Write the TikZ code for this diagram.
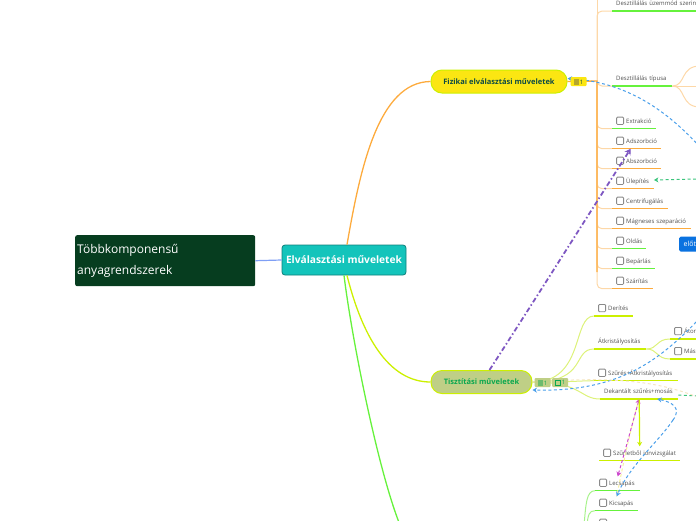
\documentclass[tikz,border=0pt]{standalone}
\usepackage{xcolor}
\usepackage{fontspec}
\setmainfont{Open Sans}
\usetikzlibrary{arrows.meta,positioning,calc}
\definecolor{rootfill}{HTML}{13C4BB}
\definecolor{rootline}{HTML}{0E7F7A}
\definecolor{darkfill}{HTML}{063D1F}
\definecolor{linkblue}{HTML}{7F9FF5}
\definecolor{fizfill}{HTML}{FBE612}
\definecolor{fizicon}{HTML}{B5A62A}
\definecolor{limeline}{HTML}{CCF000}
\definecolor{limesoft}{HTML}{DDF27A}
\definecolor{tiszfill}{HTML}{BFCF86}
\definecolor{tisztext}{HTML}{0AA84F}
\definecolor{tisicon}{HTML}{6DBB6D}
\definecolor{fiztext}{HTML}{0D4A45}
\definecolor{orangeline}{HTML}{FDAB3D}
\definecolor{orangesoft}{HTML}{FDD8A8}
\definecolor{greenline}{HTML}{66F23C}
\definecolor{greensoft}{HTML}{A8F28C}
\definecolor{dashblue}{HTML}{4A9FEA}
\definecolor{dashgreen}{HTML}{3CC47C}
\definecolor{dashpurple}{HTML}{7E57C2}
\definecolor{dashmagenta}{HTML}{CC44CC}
\definecolor{dashbeige}{HTML}{F5E6C4}
\definecolor{dashyellow}{HTML}{F7F0A0}
\definecolor{btnblue}{HTML}{0A72E0}
\definecolor{boxgray}{HTML}{8A8A8A}
\definecolor{leaftext}{HTML}{505050}
\newcommand{\listicon}[1]{\textcolor{#1}{\rule{5pt}{6pt}}}
\newcommand{\noteicon}{{\fboxsep=0pt\fboxrule=.6pt\fbox{\rule{5pt}{0pt}\rule{0pt}{4pt}}}}
\begin{document}
\begin{tikzpicture}[
	x=1pt, y=-1pt,
	leaf/.style={anchor=south west, inner xsep=0pt, inner ysep=4pt, text width=#1pt, align=left, font=\fontsize{6}{7}\selectfont, text=leaftext, text height=4.5pt, text depth=1.5pt, execute at begin node={\hspace*{4pt}}},
	chkleaf/.style={leaf=#1, execute at begin node={\hspace*{10pt}}, path picture={\draw[boxgray, line width=.8pt, rounded corners=1pt] ([shift={(4.4pt,4pt)}]path picture bounding box.south west) rectangle ++(7pt,7.4pt);}},
	topic/.style={rounded corners=11pt, line width=1pt, minimum height=23pt, font=\fontsize{7.5}{9}\bfseries\selectfont},
	badge/.style={rounded corners=1pt, inner sep=0pt, minimum height=9pt, minimum width=16pt, font=\fontsize{6}{7}\selectfont},
	ulgreen/.style={greenline, line width=1.5pt},
	ulorange/.style={orangeline, line width=1.5pt},
	ullime/.style={limeline, line width=1.5pt},
	softorange/.style={orangesoft, line width=1pt},
	softlime/.style={limesoft, line width=1pt},
	softgreen/.style={greensoft, line width=1pt},
	dashlink/.style={dash pattern=on 3pt off 2.5pt, line width=1pt},
	arr/.style={-{Stealth[length=4.5pt, width=5pt]}}
	]
	\path[use as bounding box, clip] (0,0) rectangle (696,520);
	\node[fill=darkfill, rounded corners=2pt, anchor=north west, minimum width=180pt, minimum height=51pt, text width=176pt, inner xsep=2pt, align=left, text=white, font=\fontsize{12}{21.5}\selectfont] (multi) at (75,235) {Többkomponensű\\anyagrendszerek};
	\node[fill=rootfill, draw=rootline, line width=.8pt, rounded corners=3pt, minimum width=124pt, minimum height=30pt, inner sep=0pt, text=white, font=\fontsize{10.2}{12}\bfseries\selectfont] (root) at (344,260) {Elválasztási műveletek};
	\node[topic, fill=fizfill, draw=limeline, minimum width=136pt, text=fiztext] (fiz) at (499,81.5) {Fizikai elválasztási műveletek};
	\node[topic, fill=tiszfill, draw=limeline, minimum width=101pt, text=tisztext] (tisz) at (481.5,382) {Tisztítási műveletek};
	\node[leaf=120] (uzem) at (612,11) {Desztillálás üzemmód szerint};
	\node[leaf=60] (tipus) at (612,86) {Desztillálás típusa};
	\node[chkleaf=44] (extr) at (612,128.7) {Extrakció};
	\node[chkleaf=49] (adsz) at (612,148.7) {Adszorbció};
	\node[chkleaf=49] (absz) at (612,168.7) {Abszorbció};
	\node[chkleaf=41.5] (ulep) at (612,188.7) {Ülepítés};
	\node[chkleaf=56] (centr) at (612,208.7) {Centrifugálás};
	\node[chkleaf=79] (magn) at (612,228.7) {Mágneses szeparáció};
	\node[chkleaf=34] (old) at (612,248.7) {Oldás};
	\node[chkleaf=43] (bep) at (612,268.7) {Bepárlás};
	\node[chkleaf=41] (szar) at (612,288.7) {Szárítás};
	\node[fill=btnblue, rounded corners=1.5pt, anchor=north west, minimum height=15pt, text width=26pt, inner xsep=4.5pt, inner ysep=0pt, align=left, text=white, font=\fontsize{7}{8}\selectfont] (elot) at (679,236.5) {előt};
	\node[chkleaf=39] (derit) at (594,316) {Derítés};
	\node[leaf=52] (atkr) at (594,349) {Átkristályosítás};
	\node[chkleaf=40] (ator) at (670,339) {Átor};
	\node[chkleaf=40] (masik) at (670,359) {Más};
	\node[chkleaf=84] (szuat) at (594,380.7) {Szűrés+Átkristályosítás};
	\node[leaf=78] (dekant) at (600,399) {Dekantált szűrés+mosás};
	\node[chkleaf=81] (szurl) at (599,460.7) {Szűrletből ionvizsgálat};
	\node[chkleaf=45] (lecs) at (595,490.7) {Lecsapás};
	\node[chkleaf=43] (kics) at (595,510.7) {Kicsapás};
	\node[chkleaf=43] (tovabb) at (595,530.7) {};
	\coordinate (fork) at (597,81);
	\coordinate (forktop) at (597,-5);
	\coordinate (forkend) at (597,272);
	\coordinate (tip1) at (700,66);
	\coordinate (tip2) at (700,86);
	\coordinate (tip3) at (700,107);
	\coordinate (greenin) at (400,525);
	\coordinate (greenin2) at (584,525);
	\coordinate (greenin3) at (587,525);
	\coordinate (blue1) at (700,147);
	\coordinate (blue2) at (700,318);
	\coordinate (green1) at (700,396);
	\coordinate (beige1) at (700,398);
	\draw[linkblue, line width=1.2pt] (multi.east) -- (root.west);
	\draw[orangeline, line width=1.3pt] ([xshift=3pt]root.north) .. controls (360,170) and (378,82) .. (fiz.west);
	\draw[limeline, line width=1.3pt] ([xshift=3pt]root.south) .. controls (362,335) and (388,382) .. (tisz.west);
	\draw[greenline, line width=1.3pt] (root.south) .. controls (352,340) and (378,470) .. (greenin);
	\draw[softorange] (forktop) -- (fork);
	\draw[softorange, rounded corners=5pt] (fork) |- (uzem.south west);
	\draw[softorange, rounded corners=5pt] (fork) |- (tipus.south west);
	\draw[softorange, rounded corners=5pt] (fork) |- (extr.south west);
	\draw[softorange, rounded corners=5pt] (fork) |- (adsz.south west);
	\draw[softorange, rounded corners=5pt] (fork) |- (absz.south west);
	\draw[softorange, rounded corners=5pt] (fork) |- (ulep.south west);
	\draw[softorange, rounded corners=5pt] (fork) |- (centr.south west);
	\draw[softorange, rounded corners=5pt] (fork) |- (magn.south west);
	\draw[softorange, rounded corners=5pt] (fork) |- (old.south west);
	\draw[softorange, rounded corners=5pt] (fork) |- (bep.south west);
	\draw[softorange, rounded corners=5pt] (fork) |- (szar.south west);
	\draw[orangeline, line width=1.4pt] (fiz.east) -- (fork) -- (forkend);
	\draw[softorange] (tipus.south east) .. controls (686,86) and (680,66) .. (tip1);
	\draw[softorange] (tipus.south east) -- (tip2);
	\draw[softorange] (tipus.south east) .. controls (686,86) and (680,107) .. (tip3);
	\draw[ulgreen] (uzem.south west) -- ([xshift=-20pt]uzem.south east);
	\draw[ulgreen] (tipus.south west) -- (tipus.south east);
	\draw[ulgreen] (extr.south west) -- (extr.south east);
	\draw[ulorange] (adsz.south west) -- (adsz.south east);
	\draw[ulorange] (absz.south west) -- (absz.south east);
	\draw[ulorange] (ulep.south west) -- (ulep.south east);
	\draw[ulorange] (centr.south west) -- (centr.south east);
	\draw[ulorange] (magn.south west) -- (magn.south east);
	\draw[ulgreen] (old.south west) -- (old.south east);
	\draw[ulgreen] (bep.south west) -- (bep.south east);
	\draw[ulorange] (szar.south west) -- (szar.south east);
	\draw[softlime] (tisz.east) .. controls (585,382) and (572,316) .. (derit.south west);
	\draw[softlime] (tisz.east) .. controls (588,382) and (572,349) .. (atkr.south west);
	\draw[softlime] (tisz.east) .. controls (575,382) and (580,380.7) .. (szuat.south west);
	\draw[softlime] (tisz.east) .. controls (582,382) and (580,399) .. (dekant.south west);
	\draw[softlime] (atkr.south east) .. controls (658,349) and (656,339) .. (ator.south west);
	\draw[softlime] (atkr.south east) .. controls (658,349) and (656,359) .. (masik.south west);
	\draw[softgreen] (greenin2) .. controls (586,505) and (586,490.7) .. (lecs.south west);
	\draw[softgreen] (greenin3) .. controls (588,515) and (589,510.7) .. (kics.south west);
	\draw[ullime] (derit.south west) -- (derit.south east);
	\draw[ullime] (atkr.south west) -- (atkr.south east);
	\draw[ullime] (ator.south west) -- (ator.south east);
	\draw[ullime] (masik.south west) -- (masik.south east);
	\draw[ullime] (szuat.south west) -- (szuat.south east);
	\draw[ullime] (dekant.south west) -- (dekant.south east);
	\draw[ullime] (szurl.south west) -- (szurl.south east);
	\draw[ulgreen] (lecs.south west) -- (lecs.south east);
	\draw[ulgreen] (kics.south west) -- (kics.south east);
	\draw[dashpurple, line width=1.8pt, dash pattern=on 5pt off 2.5pt on 1.5pt off 2.5pt, -{Stealth[length=6pt, width=7pt]}] ([xshift=8pt]tisz.north) .. controls (540,292) and (590,212) .. ([xshift=-6pt]adsz.south);
	\draw[dashblue, dashlink, arr] (blue1) .. controls (668,112) and (628,82) .. ([yshift=3pt]fiz.east);
	\draw[dashblue, dashlink, arr] (blue2) .. controls (660,360) and (620,392) .. ([yshift=-8pt]tisz.east);
	\draw[dashgreen, dashlink, arr] (696,179) -- ([yshift=1.5pt]ulep.east);
	\draw[dashgreen, dashlink] ([yshift=4pt]dekant.south east) -- (green1);
	\draw[dashbeige, dashlink] (tisz.east) .. controls (620,376) and (660,382) .. (beige1);
	\draw[dashyellow, dashlink] (dekant.south) .. controls (630,430) and (622,470) .. (kics.north);
	\draw[dashmagenta, dashlink, {Stealth[length=4.5pt, width=5pt]}-{Stealth[length=4.5pt, width=5pt]}] (dekant.south) .. controls (632,425) and (624,455) .. (lecs.north);
	\draw[limeline, line width=1.2pt, arr] (dekant.south) -- (szurl.north);
	\draw[dashblue, dashlink, arr] (673,420) .. controls (660,440) and (630,465) .. (kics.north);
	\draw[dashblue, dashlink, arr] (673,420) .. controls (682,408) and (672,402) .. ([xshift=18pt]dekant.south);
	\node[badge, fill=fizfill, text=fiztext, right=3pt of fiz] (fizlist) {\listicon{fizicon}\,1};
	\node[badge, fill=tiszfill, text=tisztext, anchor=west] (tislist) at (534.5,382.5) {\listicon{tisicon}\,1};
	\node[badge, fill=tiszfill, text=tisztext, right=1pt of tislist] (tiscomm) {\noteicon\,1};
\end{tikzpicture}
\end{document}
